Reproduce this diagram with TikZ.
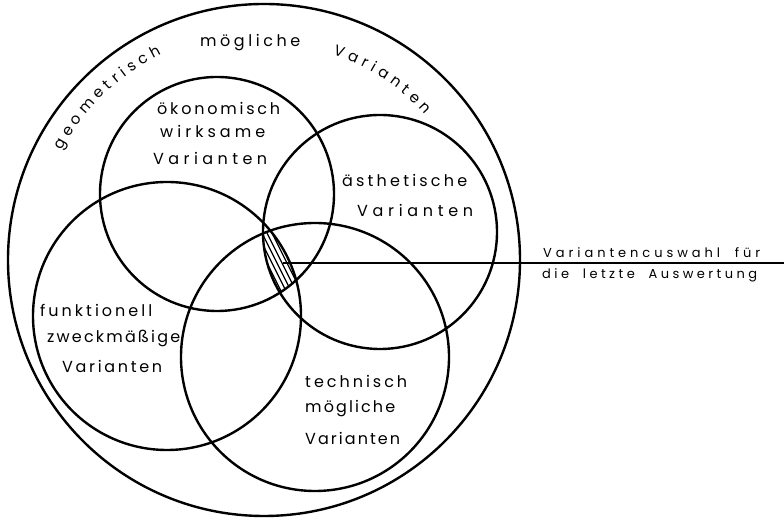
\documentclass[tikz,border=0pt]{standalone}
\usepackage{fontspec}
\newfontfamily\lett{Poppins}
\usetikzlibrary{decorations.text}
\ExplSyntaxOn
\tl_new:N \l_spread_tl
\NewDocumentCommand \spreadto { m m }
  {
    \tl_set:Nn \l_spread_tl {#2}
    \tl_replace_all:Nnn \l_spread_tl { ~ } { { \c_space_tl \c_space_tl } }
    \hbox_to_wd:nn {#1}
      {
        \tl_map_inline:Nn \l_spread_tl { ##1 \hfil }
        \unskip
      }
  }
\ExplSyntaxOff
\begin{document}
\begin{tikzpicture}[x=1pt,y=1pt,
  ring/.style={line width=2.4pt},
  lbl/.style={inner sep=0pt, anchor=base west, font=\lett\fontsize{16}{16}\selectfont},
  side/.style={inner sep=0pt, anchor=base west, font=\lett\fontsize{13}{13}\selectfont},
  hatchline/.style={line width=1.2pt},
  leader/.style={line width=1.2pt},
  arctext/.style={decorate, decoration={text along path,
      text align={fit to path}}}]
\useasboundingbox (0,0) rectangle (784,521);
% centres
\coordinate (O) at (264,261);
\coordinate (E) at (217,327);
\coordinate (A) at (380,289);
\coordinate (F) at (167,205);
\coordinate (T) at (315,164);
% hatched common region
\begin{scope}
  \clip (E) circle (117);
  \clip (A) circle (117);
  \clip (F) circle (134);
  \clip (T) circle (134);
  \foreach \x in {196,201,...,300}
    \draw[hatchline] (\x,320) -- ++(70,-140);
\end{scope}
% circles
\draw[ring] (O) circle (256);
\draw[ring] (E) circle (117);
\draw[ring] (A) circle (117);
\draw[ring] (F) circle (134);
\draw[ring] (T) circle (134);
% leader
\coordinate (lead) at (283,258);
\coordinate (leadend) at (784,258);
\draw[leader] (lead) -- (leadend);
% curved labels on the outer ring
\path[arctext, decoration={text={|\lett\fontsize{15}{15}\selectfont|geometrisch}}]
  ([shift={(151.5:230)}]O) arc[start angle=151.5, end angle=116.5, radius=230];
\path[arctext, decoration={text={|\lett\fontsize{15}{15}\selectfont|Varianten}}]
  ([shift={(71.5:217)}]O) arc[start angle=71.5, end angle=42, radius=217];
\node[lbl] (gm) at (200,474) {\spreadto{100pt}{mögliche}};
% economic
\node[lbl] (e1) at (157,406) {\spreadto{123pt}{ökonomisch}};
\node[lbl] (e2) at (160,383) {\spreadto{105pt}{wirksame}};
\node[lbl] (e3) at (153,356) {\spreadto{114pt}{Varianten}};
% aesthetic
\node[lbl] (a1) at (342,334) {\spreadto{125pt}{ästhetische}};
\node[lbl] (a2) at (357,304) {\spreadto{116pt}{Varianten}};
% functional
\node[lbl] (f1) at (40,204) {\spreadto{112pt}{funktionell}};
\node[lbl] (f2) at (47,178) {\spreadto{133pt}{zweckmäßige}};
\node[lbl] (f3) at (62,148) {\spreadto{100pt}{Varianten}};
% technical
\node[lbl] (t1) at (305,133) {\spreadto{102pt}{technisch}};
\node[lbl] (t2) at (305,108) {\spreadto{90pt}{mögliche}};
\node[lbl] (t3) at (305,76) {\spreadto{95pt}{Varianten}};
% side labels
\node[side] (s1) at (543,263) {\spreadto{217pt}{Variantencuswahl für}};
\node[side] (s2) at (542,242) {\spreadto{215pt}{die letzte Auswertung}};
\end{tikzpicture}
\end{document}
